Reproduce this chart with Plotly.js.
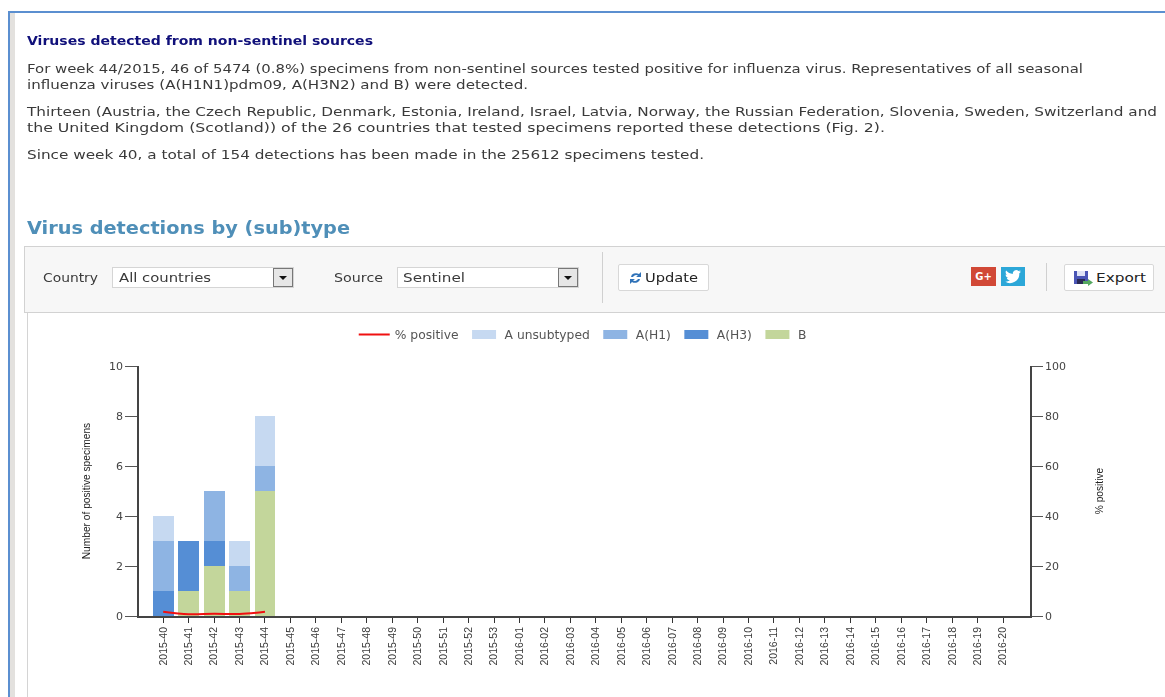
<!DOCTYPE html>
<html><head><meta charset="utf-8">
<script src="https://cdn.plot.ly/plotly-3.0.1.min.js"></script>
<style>
html,body{margin:0;padding:0;background:#fff;overflow:hidden}
body{width:1165px;height:697px;position:relative;font-family:"DejaVu Sans",sans-serif;color:#333}
#page{position:absolute;left:0;top:0;width:1165px;height:697px;filter:blur(0.35px)}
.t{position:absolute;white-space:nowrap;font-size:13px;line-height:16px;left:27px;color:#3a3a3a;transform-origin:0 50%}
.box{position:absolute;box-sizing:border-box}
#chart{position:absolute;left:0;top:233px;width:1165px;height:464px}
</style></head><body><div id="page">
<div class="box" style="left:8px;top:11px;width:1157px;height:2px;background:#5b8fd0"></div>
<div class="box" style="left:8px;top:11px;width:2px;height:686px;background:#5b8fd0"></div>
<div class="box" style="left:10px;top:13px;width:5px;height:684px;background:#e3e1de"></div>

<div class="t" style="top:33px;font-weight:bold;color:#10107a;font-size:12.4px" data-w="346">Viruses detected from non-sentinel sources</div>
<div class="t" style="top:61px" data-w="1056">For week 44/2015, 46 of 5474 (0.8%) specimens from non-sentinel sources tested positive for influenza virus. Representatives of all seasonal</div>
<div class="t" style="top:77px" data-w="501">influenza viruses (A(H1N1)pdm09, A(H3N2) and B) were detected.</div>
<div class="t" style="top:104px" data-w="1130">Thirteen (Austria, the Czech Republic, Denmark, Estonia, Ireland, Israel, Latvia, Norway, the Russian Federation, Slovenia, Sweden, Switzerland and</div>
<div class="t" style="top:120px" data-w="858">the United Kingdom (Scotland)) of the 26 countries that tested specimens reported these detections (Fig. 2).</div>
<div class="t" style="top:147px" data-w="677">Since week 40, a total of 154 detections has been made in the 25612 specimens tested.</div>
<div class="t" style="top:218px;font-size:17px;line-height:20px;font-weight:bold;color:#4f8fb8" data-w="323">Virus detections by (sub)type</div>

<div class="box" style="left:24px;top:246px;width:1150px;height:67px;background:#f7f7f7;border:1px solid #d2d2d2"></div>
<div class="box" style="left:27px;top:313px;width:1px;height:384px;background:#d4d4d4"></div>

<div class="t" style="left:43px;top:270px;font-size:11.5px" data-w="55">Country</div>
<div class="box" style="left:112px;top:267px;width:182px;height:21px;background:#fff;border:1px solid #d5d5d5"></div>
<div class="t" style="left:119px;top:270px" data-w="92">All countries</div>
<div class="box" style="left:273px;top:268px;width:20px;height:19px;background:#e6e6e6;border:1px solid #777"></div>
<div class="box" style="left:279px;top:276px;width:0;height:0;border-left:4px solid transparent;border-right:4px solid transparent;border-top:4px solid #111"></div>
<div class="t" style="left:334px;top:270px;font-size:11.5px" data-w="49">Source</div>
<div class="box" style="left:397px;top:267px;width:182px;height:21px;background:#fff;border:1px solid #d5d5d5"></div>
<div class="t" style="left:403px;top:270px" data-w="62">Sentinel</div>
<div class="box" style="left:558px;top:268px;width:20px;height:19px;background:#e6e6e6;border:1px solid #777"></div>
<div class="box" style="left:564px;top:276px;width:0;height:0;border-left:4px solid transparent;border-right:4px solid transparent;border-top:4px solid #111"></div>
<div class="box" style="left:602px;top:252px;width:1px;height:51px;background:#d0d0d0"></div>

<div class="box" style="left:618px;top:264px;width:91px;height:27px;background:#fff;border:1px solid #d8d8d8;border-radius:2px"></div>
<svg class="box" style="left:629px;top:271px" width="13" height="14" viewBox="0 0 13 14"><path d="M2 6 A5 4 0 0 1 10 3 L12 1 L12 6 L7 6 L9 4.5 A3.5 3 0 0 0 4 6Z" fill="#2f72b8"/><path d="M11 8 A5 4 0 0 1 3 11 L1 13 L1 8 L6 8 L4 9.5 A3.5 3 0 0 0 9 8Z" fill="#2f72b8"/></svg>
<div class="t" style="left:645px;top:270px;color:#222" data-w="53">Update</div>

<div class="box" style="left:971px;top:267px;width:25px;height:19px;background:#d14836;color:#fff;font:bold 10px 'DejaVu Sans';text-align:center;line-height:19px">G+</div>
<div class="box" style="left:1001px;top:267px;width:24px;height:19px;background:#2ca7d8"></div>
<svg class="box" style="left:1004px;top:269px" width="18" height="15" viewBox="0 0 18 15"><path d="M17 2.5c-.6.3-1.2.4-1.9.5.7-.4 1.2-1 1.4-1.8-.6.4-1.3.6-2 .8A3.3 3.3 0 0 0 8.900 5C6.200 4.900 3.700 3.600 2.100 1.600c-.9 1.500-.4 3.400 1 4.400-.5 0-1-.2-1.500-.4 0 1.600 1.100 3 2.700 3.300-.5.100-1 .1-1.500 0 .4 1.300 1.700 2.300 3.100 2.300A6.600 6.600 0 0 1 1 12.600 9.300 9.300 0 0 0 15.300 4.300c.7-.5 1.300-1.100 1.700-1.800z" fill="#fff"/></svg>
<div class="box" style="left:1046px;top:263px;width:1px;height:28px;background:#d0d0d0"></div>
<div class="box" style="left:1064px;top:264px;width:90px;height:27px;background:#fff;border:1px solid #d8d8d8;border-radius:2px"></div>
<svg class="box" style="left:1074px;top:271px" width="19" height="16" viewBox="0 0 19 16"><rect x="0" y="0" width="14" height="13" fill="#4a55b5"/><rect x="3" y="0" width="8" height="5" fill="#dfe3f5"/><rect x="3" y="8" width="8" height="5" fill="#2a2a55"/><path d="M9 10h5V8l5 3.500-5 3.500v-2H9z" fill="#55a860"/></svg>
<div class="t" style="left:1096px;top:270px;color:#222" data-w="50">Export</div>

<div id="chart"></div>
</div>
<script>
var weeks = ["2015-40","2015-41","2015-42","2015-43","2015-44","2015-45","2015-46","2015-47","2015-48","2015-49","2015-50","2015-51","2015-52","2015-53","2016-01","2016-02","2016-03","2016-04","2016-05","2016-06","2016-07","2016-08","2016-09","2016-10","2016-11","2016-12","2016-13","2016-14","2016-15","2016-16","2016-17","2016-18","2016-19","2016-20"];
var reported = ["2015-40","2015-41","2015-42","2015-43","2015-44"];
var typeB = [0,1,2,1,5];
var typeAH3 = [1,2,1,0,0];
var typeAH1 = [2,0,2,1,1];
var typeAUnsub = [1,0,0,1,2];
var pctPositive = [1.7,0.7,0.9,0.8,1.7];

document.querySelectorAll('.t[data-w]').forEach(function(el){
  var w = el.getBoundingClientRect().width, target = +el.getAttribute('data-w');
  el.style.transform = 'scaleX(' + (target / w) + ')';
});

var xTickFont = {family:'"Liberation Sans",sans-serif', size:10.5, color:'#3a3a3a'};
var yTickFont = {family:'"DejaVu Sans",sans-serif', size:11, color:'#444'};
var titleFont = {family:'"Liberation Sans",sans-serif', size:10.2, color:'#222'};
function bar(name, vals, color, rank){
  return {type:'bar', name:name, x:reported, y:vals, yaxis:'y', marker:{color:color}, legendrank:rank, hoverinfo:'y+name'};
}
var data = [
  bar('B', typeB, '#c3d69b', 5),
  bar('A(H3)', typeAH3, '#558ed5', 4),
  bar('A(H1)', typeAH1, '#8eb4e3', 3),
  bar('A unsubtyped', typeAUnsub, '#c6d9f1', 2),
  {type:'scatter', mode:'lines', name:'% positive', x:reported, y:pctPositive, yaxis:'y2',
   line:{color:'#f01010', width:2, shape:'spline'}, legendrank:1}
];
var layout = {
  width:1165, height:464, autosize:false,
  margin:{l:139, r:135, t:133, b:81, pad:0},
  paper_bgcolor:'rgba(0,0,0,0)', plot_bgcolor:'rgba(0,0,0,0)',
  barmode:'stack', bargap:0.18,
  font:{family:'"DejaVu Sans",sans-serif', color:'#555'},
  showlegend:true,
  legend:{orientation:'h', traceorder:'normal', itemwidth:31, x:0.241, xanchor:'left', y:1.184, yanchor:'top', font:{size:12.3, color:'#555', family:'"DejaVu Sans",sans-serif'}, bgcolor:'rgba(0,0,0,0)'},
  xaxis:{type:'category', categoryorder:'array', categoryarray:weeks, tickmode:'array', tickvals:weeks, ticktext:weeks,
    range:[-0.95,34.06], tickangle:-90, ticks:'outside', ticklen:5, tickcolor:'#333', tickwidth:1,
    showline:true, linecolor:'#444', linewidth:1.5, showgrid:false, zeroline:false, tickfont:xTickFont, automargin:false},
  yaxis:{range:[0,10], tickvals:[0,2,4,6,8,10], ticks:'outside', ticklen:12, tickcolor:'#555', tickwidth:1,
    showline:true, linecolor:'#444', linewidth:1.5, showgrid:false, zeroline:false, tickfont:yTickFont,
    title:{text:'Number of positive specimens', font:titleFont, standoff:16}},
  yaxis2:{range:[0,100], overlaying:'y', side:'right', tickvals:[0,20,40,60,80,100], ticks:'outside', ticklen:11, tickcolor:'#555', tickwidth:1,
    showline:true, linecolor:'#444', linewidth:1.5, showgrid:false, zeroline:false, tickfont:yTickFont,
    title:{text:'% positive', font:titleFont, standoff:31}}
};
function wideSwatches(){
  document.querySelectorAll('#chart .legend .legendpoints path').forEach(function(p){
    var d = (p.getAttribute('d') || '').replace(/\s/g,'');
    if (d.indexOf('M6,6H-6V-6H6Z') === 0) p.setAttribute('d','M12,4.5H-12V-4.5H12Z');
  });
}
var gd = document.getElementById('chart');
Plotly.newPlot(gd, data, layout, {displayModeBar:false}).then(function(){
  wideSwatches();
  gd.on('plotly_afterplot', wideSwatches);
  setTimeout(wideSwatches, 50);
});
</script>
</body></html>
